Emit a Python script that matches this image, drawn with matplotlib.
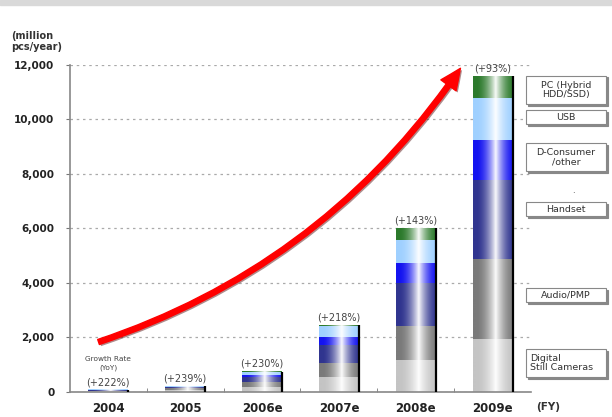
import numpy as np
import matplotlib
matplotlib.use("Agg")
import matplotlib.pyplot as plt
from matplotlib.patches import FancyArrowPatch, Rectangle
import matplotlib.patheffects as pe
from matplotlib.colors import to_rgb

years = ['2004', '2005', '2006e', '2007e', '2008e', '2009e']
growth = ['(+222%)', '(+239%)', '(+230%)', '(+218%)', '(+143%)', '(+93%)']

# shipments by application, million pcs/year (bottom to top)
dsc = [25, 70, 180, 540, 1170, 1930]
audio = [20, 60, 200, 510, 1250, 2930]
handset = [10, 40, 160, 670, 1580, 2910]
dconsumer = [5, 20, 80, 310, 710, 1460]
usb = [6, 34, 120, 400, 860, 1550]
pc = [0, 0, 5, 20, 430, 800]

segments = [dsc, audio, handset, dconsumer, usb, pc]
seg_colors = ['#c4c4c4', '#7a7a7a', '#30358f', '#1414f0', '#9fd0ff', '#2c7a2c']
seg_labels = ['Digital\nStill Cameras', 'Audio/PMP', 'Handset',
              'D-Consumer\n/other', 'USB', 'PC (Hybrid\nHDD/SSD)']

fig = plt.figure(figsize=(6.12, 4.17), dpi=100)
ax = fig.add_axes([0.114, 0.060, 0.754, 0.785])

# thin grey band along the top edge
fig.patches.append(Rectangle((0, 0.988), 1, 0.012, transform=fig.transFigure,
                             color='#d9d9d9', zorder=0))

width = 0.52
xs = np.linspace(0, 1, 200)
# cylinder-like shading: white highlight a bit right of centre
shade = np.clip(1 - np.abs(xs - 0.57) / 0.48, 0, 1) ** 1.8

totals = np.sum(segments, axis=0)
for i in range(len(years)):
    bottom = 0
    x0 = i - width / 2
    for vals, col in zip(segments, seg_colors):
        h = vals[i]
        if h <= 0:
            continue
        c = np.array(to_rgb(col))
        img = c[None, :] * (1 - 0.97 * shade[:, None]) + 0.97 * shade[:, None]
        ax.imshow(img[None, :, :], extent=(x0, x0 + width, bottom, bottom + h),
                  aspect='auto', zorder=2, interpolation='bilinear')
        bottom += h
    # dark right edge
    ax.plot([x0 + width, x0 + width], [0, totals[i]], color='black', lw=1.6, zorder=3,
            solid_capstyle='butt')
    ax.annotate(growth[i], (i, totals[i]), xytext=(0, 2), textcoords='offset points',
                ha='center', va='bottom', fontsize=7, color='#444444')

ax.text(0, 1060, 'Growth Rate\n(YoY)', ha='center', va='center', fontsize=5.3,
        color='#444444', linespacing=1.5)

ax.set_xlim(-0.5, 5.5)
ax.set_ylim(0, 12000)
ax.set_yticks(range(0, 12001, 2000))
ax.set_yticklabels(['0', '2,000', '4,000', '6,000', '8,000', '10,000', '12,000'],
                   fontsize=7.5, fontweight='bold', color='#222222')
ax.set_xticks(range(len(years)))
ax.set_xticklabels(years, fontsize=8.5, fontweight='bold', color='#222222')
ax.set_xticks(np.arange(0.5, 5.5, 1), minor=True)
ax.tick_params(axis='x', which='major', length=0, pad=7)
ax.tick_params(axis='x', which='minor', length=3, direction='in', color='#777777')
ax.tick_params(axis='y', length=3, color='#777777', pad=8)
ax.yaxis.grid(True, linestyle=(0, (2, 3)), color='#aaaaaa', lw=0.9)
ax.set_axisbelow(True)
for s in ['top', 'right']:
    ax.spines[s].set_visible(False)
for s in ['left', 'bottom']:
    ax.spines[s].set_color('#888888')
    ax.spines[s].set_linewidth(1.2)
ax.set_facecolor('none')

fig.text(0.018, 0.900, '(million\npcs/year)', fontsize=7, fontweight='bold',
         ha='left', va='center', color='#333333', linespacing=1.15)
fig.text(0.895, 0.024, '(FY)', fontsize=7.5, fontweight='bold', ha='center',
         va='center', color='#333333')

# growth arrow
arrow = FancyArrowPatch((-0.16, 1800), (4.60, 11950),
                        connectionstyle='arc3,rad=0.17',
                        arrowstyle='simple,head_width=1.35,head_length=1.5,tail_width=0.38',
                        mutation_scale=10, color='#ff0000', zorder=4, clip_on=False)
arrow.set_path_effects([pe.SimplePatchShadow(offset=(1.2, -1.2), alpha=0.45), pe.Normal()])
ax.add_patch(arrow)

# legend boxes on the right
box_centres = [363, 295, 209, 157, 117, 90]  # pixel rows from top
for lab, yc in zip(seg_labels, box_centres):
    nlines = lab.count('\n') + 1
    hpx = 14 if nlines == 1 else 28
    yf = 1 - yc / 417
    hf = hpx / 417
    for off, fc in [((1.5 / 612), '#888888'), (0, 'white')]:
        fig.patches.append(Rectangle((526 / 612 + off, yf - hf / 2 - off * 612 / 417),
                                     80 / 612, hf, transform=fig.transFigure,
                                     fc=fc, ec='#888888', lw=0.8, zorder=5))
    if lab.startswith('Digital'):
        fig.text(530 / 612, yf, lab, fontsize=6.8, ha='left', va='center',
                 color='#333333', zorder=6, linespacing=1.1)
    else:
        fig.text(566 / 612, yf, lab, fontsize=6.8, ha='center', va='center',
                 color='#333333', zorder=6, linespacing=1.1)
fig.text(573 / 612, 1 - 190 / 417, '.', fontsize=6, ha='center', va='center', color='#333333')

fig.savefig('out.png', dpi=100)
